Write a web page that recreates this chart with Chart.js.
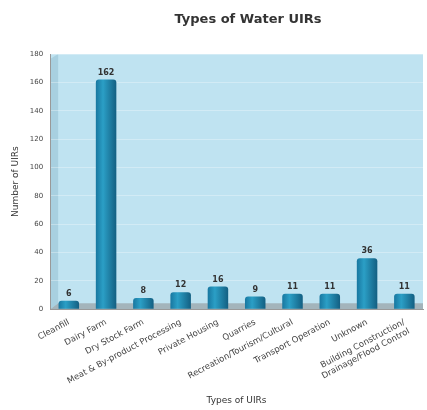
<!DOCTYPE html>
<html><head><meta charset="utf-8">
<script src="https://cdn.jsdelivr.net/npm/chart.js@4.4.0/dist/chart.umd.min.js"></script>
<style>html,body{margin:0;padding:0;background:#fff}#wrap{width:427px;height:410px}</style>
</head><body><div id="wrap"><canvas id="c" width="427" height="410"></canvas></div>
<script>
const categories = ["Cleanfill","Dairy Farm","Dry Stock Farm","Meat & By-product Processing","Private Housing","Quarries","Recreation/Tourism/Cultural","Transport Operation","Unknown",["Building Construction/","Drainage/Flood Control"]];
const values = [6,162,8,12,16,9,11,11,36,11];
const yTicks = [0,20,40,60,80,100,120,140,160,180];
const chartTitle = 'Types of Water UIRs';

const bgPlugin = {
  id:'bg',
  beforeDraw(chart){
    const {ctx, chartArea:a} = chart;
    ctx.save();
    ctx.fillStyle='#bfe3f1';
    ctx.fillRect(a.left,a.top,a.right-a.left,a.bottom-a.top);
    ctx.fillStyle='#a8d0e0';
    ctx.beginPath();
    ctx.moveTo(a.left,a.top+5);ctx.lineTo(a.left+8,a.top);ctx.lineTo(a.left+8,a.bottom-6);ctx.lineTo(a.left,a.bottom);ctx.closePath();ctx.fill();
    ctx.fillStyle='#a3b4bb';
    ctx.beginPath();
    ctx.moveTo(a.left,a.bottom);ctx.lineTo(a.left+8,a.bottom-6);ctx.lineTo(a.right,a.bottom-6);ctx.lineTo(a.right,a.bottom);ctx.closePath();ctx.fill();
    ctx.font='bold 13px "DejaVu Sans"';
    ctx.fillStyle='#333';
    ctx.textAlign='center';
    ctx.textBaseline='middle';
    ctx.fillText(chartTitle, 248, 20);
    ctx.restore();
  },
  afterDatasetsDraw(chart){
    const {ctx} = chart;
    const meta = chart.getDatasetMeta(0);
    ctx.save();
    ctx.font='bold 8px "DejaVu Sans"';
    ctx.fillStyle='#333';
    ctx.textAlign='center';
    ctx.textBaseline='bottom';
    meta.data.forEach((b,i)=>{ctx.fillText(String(values[i]), b.x, b.y-3);});
    ctx.restore();
  }
};

new Chart(document.getElementById('c'),{
  type:'bar',
  data:{labels:categories,datasets:[{data:values,
    backgroundColor:(c)=>{
      const ch=c.chart; const xs=ch.scales&&ch.scales.x;
      if(!ch.chartArea||!xs||c.dataIndex===undefined) return '#1f8db5';
      const x=xs.getPixelForValue(c.dataIndex);
      const w=(xs.right-xs.left)/categories.length*0.55;
      if(!Number.isFinite(x)||!Number.isFinite(w)) return '#1f8db5';
      const g=ch.ctx.createLinearGradient(x-w/2,0,x+w/2,0);
      g.addColorStop(0,'#1877a0');g.addColorStop(0.35,'#2b9fc6');g.addColorStop(1,'#135f82');
      return g;
    },
    borderRadius:{topLeft:3,topRight:3},
    borderSkipped:'bottom',
    barPercentage:0.55, categoryPercentage:1}]},
  options:{
    responsive:false, animation:false,
    layout:{padding:{left:6,right:4,top:54,bottom:4}},
    plugins:{legend:{display:false},tooltip:{enabled:false},title:{display:false}},
    scales:{
      x:{grid:{display:false},border:{color:'#999'},
        ticks:{color:'#444',font:{family:'"DejaVu Sans"',size:8.5},minRotation:28,maxRotation:28,autoSkip:false,padding:0},
        title:{display:true,text:'Types of UIRs',color:'#333',font:{family:'"DejaVu Sans"',size:9},padding:{top:0,bottom:0}}},
      y:{min:0,max:180,afterBuildTicks:(s)=>{s.ticks=yTicks.map(v=>({value:v}));},
        grid:{color:'rgba(255,255,255,0.3)',drawTicks:true,tickLength:4},border:{color:'#999'},
        ticks:{color:'#444',font:{family:'"DejaVu Sans"',size:7},padding:3},
        title:{display:true,text:'Number of UIRs',color:'#333',font:{family:'"DejaVu Sans"',size:9},padding:{bottom:6}}}
    }
  },
  plugins:[bgPlugin]
});
</script></body></html>
